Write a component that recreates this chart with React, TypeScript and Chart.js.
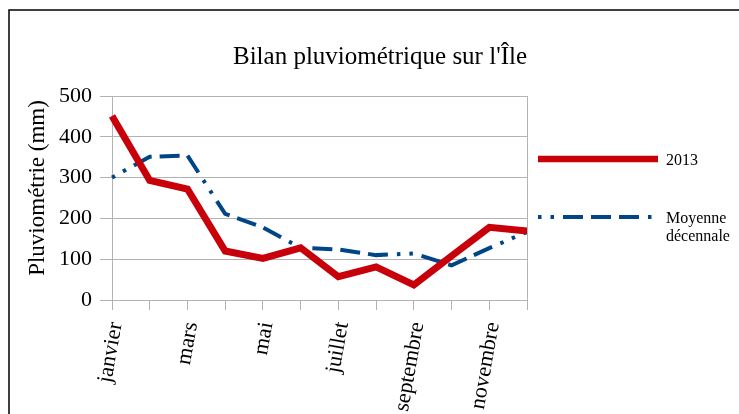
import React, { useEffect, useRef } from "react";
import { Chart, registerables } from "chart.js";

Chart.register(...registerables);

const months = [
  "janvier", "février", "mars", "avril", "mai", "juin",
  "juillet", "août", "septembre", "octobre", "novembre", "décembre",
];
const series2013 = [451, 293, 272, 120, 102, 128, 57, 81, 37, 108, 178, 169];
const seriesMoyenne = [300, 351, 354, 211, 178, 128, 124, 110, 114, 85, 127, 167];
const yTicks = [0, 100, 200, 300, 400, 500];

const chartTitle = "Bilan pluviométrique sur l'Île";
const yTitle = "Pluviométrie (mm)";
const legendLabels = [["2013"], ["Moyenne", "décennale"]];

const RED = "#c8000a";
const BLUE = "#004586";
const GRID = "#b3b3b3";
const SERIF = "'Liberation Serif', 'DejaVu Serif', serif";
const BLUE_DASH = [3.5, 9, 3.5, 9, 20, 8, 20, 8, 20, 9];

const decorPlugin = {
  id: "decor",
  afterDraw(chart: any) {
    const ctx = chart.ctx;
    const area = chart.chartArea;
    ctx.save();
    // outer frame
    ctx.strokeStyle = "#000";
    ctx.lineWidth = 1.5;
    ctx.strokeRect(9, 10, 900, 600);
    // right border of plot
    ctx.strokeStyle = GRID;
    ctx.lineWidth = 1;
    ctx.beginPath();
    ctx.moveTo(Math.round(area.right) + 0.5, area.top);
    ctx.lineTo(Math.round(area.right) + 0.5, area.bottom);
    ctx.stroke();
    // title
    ctx.fillStyle = "#000";
    ctx.font = `25px ${SERIF}`;
    ctx.textAlign = "center";
    ctx.textBaseline = "middle";
    ctx.fillText(chartTitle, 380, 57);
    // y title
    ctx.save();
    ctx.translate(38, 188);
    ctx.rotate(-Math.PI / 2);
    ctx.font = `23px ${SERIF}`;
    ctx.fillText(yTitle, 0, 0);
    ctx.restore();
    // legend
    const ds = chart.data.datasets;
    const rows = [159, 217];
    ds.forEach((d: any, i: number) => {
      const y = rows[i];
      ctx.save();
      ctx.strokeStyle = d.borderColor;
      ctx.lineWidth = i === 0 ? 6.5 : 4;
      ctx.setLineDash(d.borderDash || []);
      ctx.beginPath();
      ctx.moveTo(538, y);
      ctx.lineTo(i === 0 ? 658 : 655, y);
      ctx.stroke();
      ctx.restore();
      ctx.fillStyle = "#000";
      ctx.font = `16px ${SERIF}`;
      ctx.textAlign = "left";
      ctx.textBaseline = "middle";
      legendLabels[i].forEach((t, k) => {
        ctx.fillText(t, 666, y + 2 + k * 18);
      });
    });
    ctx.restore();
  },
};

export default function App() {
  const ref = useRef<HTMLCanvasElement | null>(null);
  useEffect(() => {
    if (!ref.current) return;
    const chart = new Chart(ref.current, {
      type: "line",
      data: {
        labels: months,
        datasets: [
          {
            label: legendLabels[0].join(" "),
            data: series2013,
            borderColor: RED,
            backgroundColor: RED,
            borderWidth: 7,
            pointRadius: 0,
            tension: 0,
            borderJoinStyle: "miter",
          },
          {
            label: legendLabels[1].join(" "),
            data: seriesMoyenne,
            borderColor: BLUE,
            backgroundColor: BLUE,
            borderWidth: 4,
            borderDash: BLUE_DASH,
            pointRadius: 0,
            tension: 0,
          },
        ],
      },
      options: {
        animation: false,
        responsive: false,
        maintainAspectRatio: false,
        layout: { padding: { top: 96, right: 212, left: 0, bottom: 0 } },
        plugins: {
          legend: { display: false },
          title: { display: false },
          tooltip: { enabled: false },
        },
        scales: {
          x: {
            offset: false,
            afterFit: (s: any) => { s.height = 114; },
            grid: {
              drawOnChartArea: false,
              tickLength: 10,
              tickColor: GRID,
              color: GRID,
            },
            border: { color: GRID },
            ticks: {
              autoSkip: false,
              minRotation: 80,
              maxRotation: 80,
              padding: 10,
              labelOffset: 4,
              color: "#000",
              font: { family: SERIF, size: 22 },
              callback: (_v: any, i: number) => (i % 2 === 0 ? months[i] : ""),
            },
          },
          y: {
            min: 0,
            max: 500,
            afterFit: (s: any) => { s.width = 112; },
            afterBuildTicks: (s: any) => { s.ticks = yTicks.map((v) => ({ value: v })); },
            grid: { color: GRID, tickLength: 12 },
            border: { color: GRID },
            ticks: {
              padding: 8,
              color: "#000",
              font: { family: SERIF, size: 22 },
            },
          },
        },
      },
      plugins: [decorPlugin],
    });
    return () => chart.destroy();
  }, []);
  return (
    <div style={{ position: "fixed", left: 0, top: 0, width: 739, height: 414, background: "#fff" }}>
      <canvas ref={ref} width={739} height={414} style={{ width: 739, height: 414 }} />
    </div>
  );
}
